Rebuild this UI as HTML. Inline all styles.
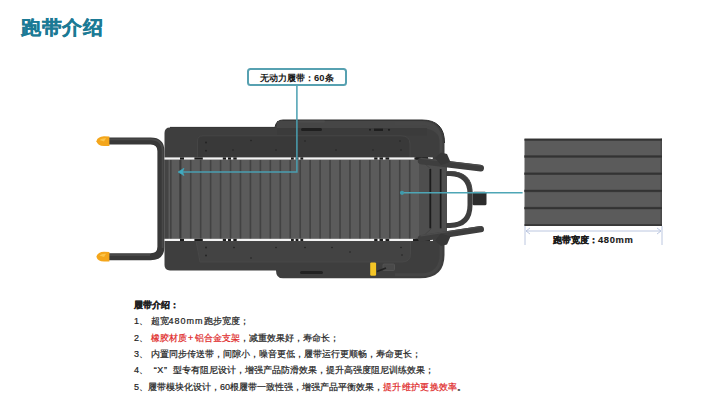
<!DOCTYPE html>
<html><head><meta charset="utf-8">
<style>
html,body{margin:0;padding:0;background:#fff;}
body{width:720px;height:405px;position:relative;overflow:hidden;font-family:"Liberation Sans",sans-serif;}
.t{position:absolute;white-space:nowrap;}
#title{left:21px;top:12px;font-size:20.5px;font-weight:bold;color:#1b7a95;line-height:30px;-webkit-text-stroke:0.35px #1b7a95;transform:scale(0.98,0.93);transform-origin:0 26px;}
#lbl{left:246.7px;top:67.5px;width:96.3px;height:14.3px;border:2px solid #57a1b1;border-radius:3.5px;font-size:9.4px;font-weight:bold;color:#1a1a1a;text-align:center;line-height:16px;}
#w{left:553px;top:234px;font-size:9.4px;font-weight:bold;color:#1a1a1a;line-height:12px;-webkit-text-stroke:0.15px #1a1a1a;}
.p{left:134px;font-size:9px;color:#222;line-height:12px;-webkit-text-stroke:0.2px #222;}
.r{color:#e02828;-webkit-text-stroke:0.2px #e02828;}
svg{position:absolute;left:0;top:0;}
</style></head><body>
<svg width="720" height="405" viewBox="0 0 720 405">
  
  <!-- left U handle -->
  <path d="M109 141.1 H150.6 Q160.9 141.1 160.9 151.1 V246.7 Q160.9 256.7 150.6 256.7 H109" fill="none" stroke="#383838" stroke-width="7"/>
  <path d="M109 139.3 H150.6 Q162.6 139.3 162.6 151.1 V248" fill="none" stroke="#484848" stroke-width="1.8"/>
  <path d="M109 255.1 H150" fill="none" stroke="#474747" stroke-width="2"/>
  <path d="M96.4 141.2 Q97.5 136.6 104 136.3 L109.4 136.6 V145.9 L104 146.1 Q97.5 145.8 96.4 141.2 Z" fill="#f4a61b"/>
  <path d="M99.5 140 Q102 137.8 106 138.2 L104 141.5 Z" fill="#fbc54a"/>
  <path d="M96.4 256.7 Q97.5 252.1 104 251.8 L109.4 252.1 V261.4 L104 261.6 Q97.5 261.3 96.4 256.7 Z" fill="#f4a61b"/>
  <path d="M99.5 255.5 Q102 253.3 106 253.7 L104 257 Z" fill="#fbc54a"/>
  <!-- deck body -->
  <path d="M170 127.4 H275 Q276 120 283 120 H422 Q444.5 120 444.5 143 V255 Q444.5 278.3 420 278.3 H283 Q276 278.3 276 270.4 H170 Q164.5 270.4 164.5 265 V133 Q164.5 127.4 170 127.4 Z" fill="#3e3e3e"/>
  <path d="M170 127.4 H275 Q276 120 283 120 H422 Q444.5 120 444.5 143" fill="none" stroke="#2c2c2c" stroke-width="1"/>
  <!-- raised top band -->
  <path d="M277 121 H422 Q438 121 441 135 L441 140 Q436 128 420 128 H277 Z" fill="#464646"/>
  <rect x="277" y="128" width="150" height="7.5" fill="#3b3b3b"/>
  <rect x="301" y="128" width="21" height="3" rx="1.5" fill="#1f1f1f"/>
  <rect x="300" y="271" width="23" height="3" rx="1.5" fill="#222"/>
  <rect x="298" y="120.5" width="27" height="2" rx="1" fill="#4c4c4c"/>
  <circle cx="370" cy="129.8" r="1" fill="#1e1e1e"/>
  <rect x="374" y="128.6" width="9" height="2.4" fill="#1e1e1e"/>
  <circle cx="389" cy="129.8" r="1.1" fill="#1e1e1e"/>
  <path d="M395 123.5 H421 Q441 123.5 441 144 V154" fill="none" stroke="#474747" stroke-width="3"/>
  <path d="M395 274.8 H421 Q441 274.8 441 254 V244" fill="none" stroke="#454545" stroke-width="3"/>
  <!-- top inner panel -->
  <path d="M203 135.8 H401 Q410 135.8 410 144 V157.6 H197.5 V141 Q197.5 135.8 203 135.8 Z" fill="#393939" stroke="#484848" stroke-width="0.8"/>
  <!-- bottom inner panel -->
  <path d="M196 241 H410.5 V254 Q410.5 262 402 262 H200 Z" fill="#434343" stroke="#4a4a4a" stroke-width="0.8"/>
  <g fill="#222">
    <circle cx="206" cy="142.5" r="0.9"/><circle cx="206" cy="150.7" r="0.9"/>
    <circle cx="251" cy="140.5" r="0.8"/><circle cx="233" cy="150" r="0.8"/>
    <circle cx="276" cy="150" r="0.8"/><circle cx="305" cy="141" r="0.8"/>
    <circle cx="336" cy="150" r="0.8"/><circle cx="373" cy="150" r="0.8"/>
    <circle cx="400" cy="141" r="0.8"/><circle cx="401" cy="150" r="0.8"/>
    <circle cx="206" cy="247.5" r="0.9"/><circle cx="206" cy="255.5" r="0.9"/>
    <circle cx="234" cy="247.5" r="0.8"/><circle cx="251" cy="258" r="0.8"/>
    <circle cx="276" cy="247.5" r="0.8"/><circle cx="305" cy="247.5" r="0.8"/>
    <circle cx="332" cy="247.5" r="0.8"/><circle cx="350" cy="252" r="0.8"/>
    <circle cx="401" cy="247.5" r="0.8"/><circle cx="402" cy="255" r="0.8"/>
  </g>
  <!-- belt -->
  <rect x="164.5" y="159.5" width="256" height="80" fill="#5b5b5b"/>
  <g><rect x="170.00" y="159.5" width="1.6" height="80" fill="#424242"/><rect x="179.96" y="159.5" width="1.6" height="80" fill="#424242"/><rect x="189.91" y="159.5" width="1.6" height="80" fill="#424242"/><rect x="199.87" y="159.5" width="1.6" height="80" fill="#424242"/><rect x="209.82" y="159.5" width="1.6" height="80" fill="#424242"/><rect x="219.78" y="159.5" width="1.6" height="80" fill="#424242"/><rect x="229.73" y="159.5" width="1.6" height="80" fill="#424242"/><rect x="239.69" y="159.5" width="1.6" height="80" fill="#424242"/><rect x="249.64" y="159.5" width="1.6" height="80" fill="#424242"/><rect x="259.59" y="159.5" width="1.6" height="80" fill="#424242"/><rect x="269.55" y="159.5" width="1.6" height="80" fill="#424242"/><rect x="279.50" y="159.5" width="1.6" height="80" fill="#424242"/><rect x="289.46" y="159.5" width="1.6" height="80" fill="#424242"/><rect x="299.42" y="159.5" width="1.6" height="80" fill="#424242"/><rect x="309.37" y="159.5" width="1.6" height="80" fill="#424242"/><rect x="319.32" y="159.5" width="1.6" height="80" fill="#424242"/><rect x="329.28" y="159.5" width="1.6" height="80" fill="#424242"/><rect x="339.24" y="159.5" width="1.6" height="80" fill="#424242"/><rect x="349.19" y="159.5" width="1.6" height="80" fill="#424242"/><rect x="359.15" y="159.5" width="1.6" height="80" fill="#424242"/><rect x="369.10" y="159.5" width="1.6" height="80" fill="#424242"/><rect x="379.06" y="159.5" width="1.6" height="80" fill="#424242"/><rect x="389.01" y="159.5" width="1.6" height="80" fill="#424242"/><rect x="398.96" y="159.5" width="1.6" height="80" fill="#424242"/><rect x="408.92" y="159.5" width="1.6" height="80" fill="#424242"/><rect x="164.5" y="159.5" width="4" height="80" fill="#444"/><rect x="179.5" y="159.5" width="1" height="80" fill="#333"/></g>
  <!-- stripes -->
  <rect x="164.5" y="157.4" width="251" height="2.2" fill="#f4f4f4"/>
  <rect x="164.5" y="238.8" width="251" height="2.2" fill="#f4f4f4"/>
  <g fill="#1a1a1a"><rect x="180" y="157.4" width="4.0" height="2.2"/><rect x="180" y="238.8" width="4.0" height="2.2"/><rect x="194.4" y="157.4" width="8.4" height="2.2"/><rect x="194.4" y="238.8" width="8.4" height="2.2"/><rect x="222.8" y="157.4" width="3.2" height="2.2"/><rect x="222.8" y="238.8" width="3.2" height="2.2"/><rect x="228" y="157.4" width="3.0" height="2.2"/><rect x="228" y="238.8" width="3.0" height="2.2"/><rect x="233.3" y="157.4" width="3.4" height="2.2"/><rect x="233.3" y="238.8" width="3.4" height="2.2"/><rect x="291" y="157.4" width="2.8" height="2.2"/><rect x="291" y="238.8" width="2.8" height="2.2"/><rect x="295.6" y="157.4" width="2.8" height="2.2"/><rect x="295.6" y="238.8" width="2.8" height="2.2"/><rect x="300.4" y="157.4" width="2.8" height="2.2"/><rect x="300.4" y="238.8" width="2.8" height="2.2"/><rect x="374.2" y="157.4" width="3.3" height="2.2"/><rect x="374.2" y="238.8" width="3.3" height="2.2"/><rect x="379.5" y="157.4" width="3.5" height="2.2"/><rect x="379.5" y="238.8" width="3.5" height="2.2"/><rect x="385.5" y="157.4" width="3.7" height="2.2"/><rect x="385.5" y="238.8" width="3.7" height="2.2"/></g>
  <!-- right end frame -->
  <path d="M419 159.5 H437 L447 163 V235 L437 239.5 H419 Z" fill="#4e4e4e"/>
  <path d="M420 160 L431 169 V229 L420 239" fill="none" stroke="#444" stroke-width="1"/>
  <rect x="429.4" y="169" width="1.7" height="59.3" fill="#1c1c1c"/>
  <rect x="439.8" y="169" width="1.7" height="59.3" fill="#1c1c1c"/>
  <rect x="414.4" y="157.4" width="13.6" height="2.2" fill="#1e1e1e"/>
  <rect x="428" y="157.4" width="4.8" height="2.2" fill="#eee"/>
  <rect x="413" y="238.8" width="17" height="2.2" fill="#1e1e1e"/>
  <rect x="430" y="238.8" width="3" height="2.2" fill="#eee"/>
  <!-- right handles -->
  <path d="M446 173.5 H450 Q470 174 470 194 V205 Q470 225 450 225.5 H446" fill="none" stroke="#3e3e3e" stroke-width="5"/>
  <path d="M446 171.5 H450 Q472 172 472 192" fill="none" stroke="#4a4a4a" stroke-width="1"/>
  <path d="M421 161 L480.8 168.2" stroke="#3e3e3e" stroke-width="6.4" stroke-linecap="round"/>
  <path d="M421 158.4 L480.8 165.5" stroke="#4b4b4b" stroke-width="1.4" stroke-linecap="round"/>
  <path d="M421 238.4 L480.8 229.2" stroke="#3e3e3e" stroke-width="6.4" stroke-linecap="round"/>
  <path d="M421 235.8 L480.8 226.6" stroke="#4b4b4b" stroke-width="1.4" stroke-linecap="round"/>
  <path d="M435 158 L441 152.5 L447 154 L450.5 162 L441 165 Z" fill="#383838"/>
  <path d="M435 240.5 L441 246 L447 244.5 L450.5 236.5 L441 233.5 Z" fill="#383838"/>
  <rect x="472.5" y="191.8" width="14" height="13.4" rx="1.5" fill="#2c2c2c"/>
  <!-- yellow latch -->
  <rect x="370.2" y="262.4" width="5.9" height="13.3" rx="1.2" fill="#f4c526"/>
  <rect x="383" y="264" width="11.5" height="6.5" rx="1" fill="#4a4a4a" stroke="#555" stroke-width="0.8"/>
  <path d="M377 271.5 L386 268" stroke="#222" stroke-width="1.6"/>
  <!-- callout lines -->
  <path d="M296.9 85 V171.9 H181" fill="none" stroke="#4a9fb1" stroke-width="1.5"/>
  <path d="M178 172 L184 168.2 L182.6 172 L184 175.6 Z" fill="#3fa9bf" stroke="#3fa9bf" stroke-width="0.6" stroke-linejoin="round"/>
  <path d="M402 192.8 H522.6" stroke="#4ea6b6" stroke-width="1.4"/>
  <circle cx="402" cy="192.8" r="2.1" fill="#3f9aab"/>
  <!-- belt sample -->
  <rect x="524.5" y="138.7" width="137.5" height="87.2" fill="#5b5b5b"/>
  <rect x="660.5" y="138.7" width="1.5" height="87.2" fill="#4a4a4a"/>
  <g fill="#484848">
    <rect x="524.5" y="155.2" width="137.5" height="2.6"/>
    <rect x="524.5" y="172.4" width="137.5" height="2.6"/>
    <rect x="524.5" y="189.6" width="137.5" height="2.6"/>
    <rect x="524.5" y="206.8" width="137.5" height="2.6"/>
  </g>
  <g fill="#333">
    <rect x="524.5" y="138.7" width="137.5" height="2"/>
    <rect x="524.5" y="155.6" width="137.5" height="1.8"/>
    <rect x="524.5" y="172.8" width="137.5" height="1.8"/>
    <rect x="524.5" y="190" width="137.5" height="1.8"/>
    <rect x="524.5" y="207.2" width="137.5" height="1.8"/>
    <rect x="524.5" y="224.2" width="137.5" height="1.7"/>
  </g>
  <!-- dimension -->
  <g stroke="#b4c1dc" stroke-width="0.9" fill="none">
    <path d="M525 226 V245"/>
    <path d="M662 226 V245"/>
    <path d="M526 231 H661"/>
    <path d="M530 228 L526 231 L530 234"/>
    <path d="M657 228 L661 231 L657 234"/>
  </g>
</svg>
<div class="t" id="title">跑带介绍</div>
<div class="t" id="lbl">无动力履带：60条</div>
<div class="t" id="w">跑带宽度：<span style="letter-spacing:0.6px">480mm</span></div>
<div class="t p" style="top:298.5px;font-weight:bold;color:#1a1a1a">履带介绍：</div>
<div class="t p" style="top:315px">1、 超宽<span style="letter-spacing:1px">480mm</span>跑步宽度；</div>
<div class="t p" style="top:332px">2、 <span class="r">橡胶材质<span style="margin:0 1.5px">+</span>铝合金支架</span>，减重效果好，寿命长；</div>
<div class="t p" style="top:347.5px">3、 内置同步传送带，间隙小，噪音更低，履带运行更顺畅，寿命更长；</div>
<div class="t p" style="top:363.5px">4、 <span style="margin-left:3.2px;letter-spacing:0.6px">“X”</span><span style="margin-left:5px">型专有阻尼设计，增强产品防滑效果，提升高强度阻尼训练效果；</span></div>
<div class="t p" style="top:380.5px">5、履带模块化设计，60根履带一致性强，增强产品平衡效果，<span class="r" style="letter-spacing:0.3px">提升维护更换效率</span>。</div>

</body></html>
